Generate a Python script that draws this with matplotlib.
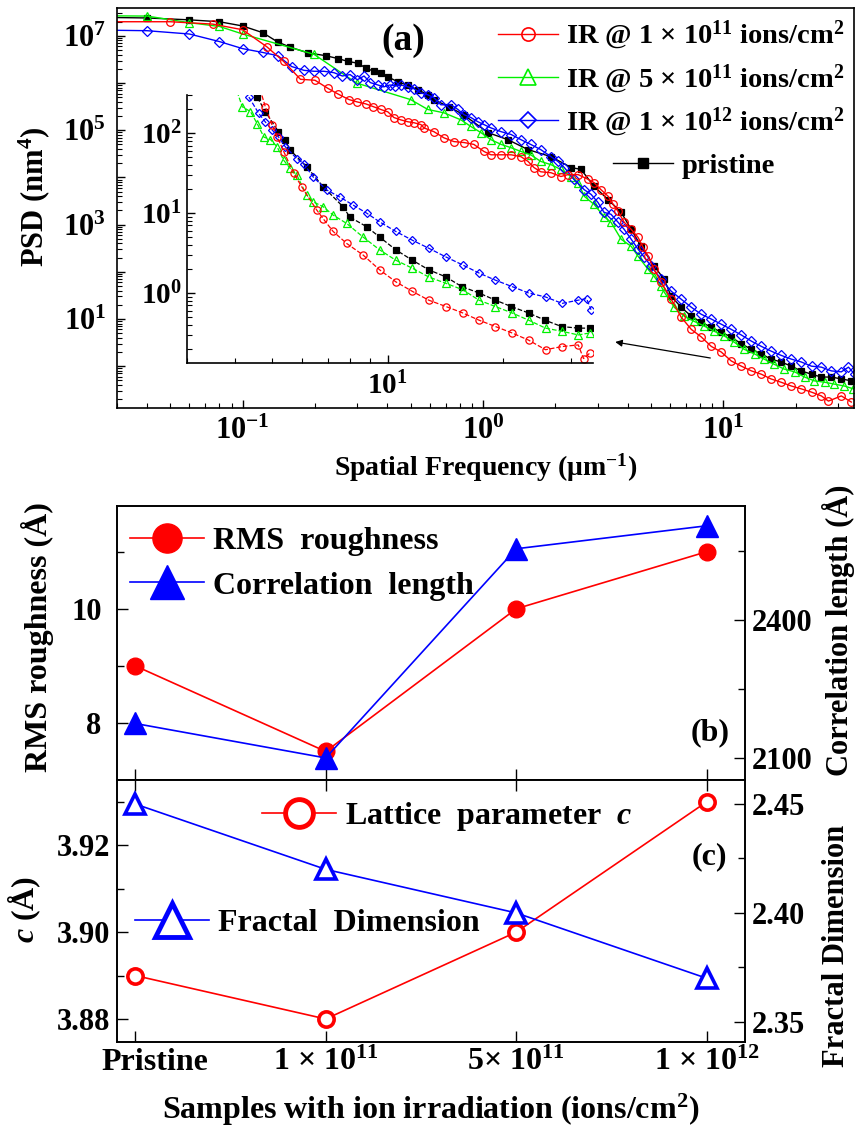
import matplotlib
matplotlib.use('Agg')
import matplotlib.pyplot as plt
import numpy as np
from matplotlib.lines import Line2D
from matplotlib.transforms import ScaledTranslation
from matplotlib.ticker import LogLocator, FuncFormatter, NullFormatter, FixedLocator

plt.rcParams['font.family'] = ['Liberation Serif', 'DejaVu Serif']
plt.rcParams['font.weight'] = 'bold'
plt.rcParams['mathtext.fontset'] = 'custom'
plt.rcParams['mathtext.rm'] = 'Liberation Serif:bold'
plt.rcParams['mathtext.it'] = 'Liberation Serif:italic:bold'
plt.rcParams['mathtext.bf'] = 'Liberation Serif:bold'
plt.rcParams['mathtext.default'] = 'regular'
plt.rcParams['axes.linewidth'] = 1.2

# ---------------- Panel (a): PSD main curves (f in um^-1, log10 PSD in nm^4) ----------
red_f = [0.025, 0.05, 0.075, 0.10, 0.126, 0.148, 0.174, 0.2, 0.226, 0.249, 0.277, 0.30,
         0.325, 0.35, 0.376, 0.402, 0.426, 0.455, 0.487, 0.516, 0.552, 0.568, 0.625, 0.688,
         0.757, 0.834, 0.917, 1.01, 1.08, 1.19, 1.31, 1.44, 1.54, 1.63, 1.74, 1.92, 2.11,
         2.26, 2.49, 2.74, 2.90, 3.10, 3.32, 3.48, 3.65, 3.87, 4.14, 4.42, 4.64, 4.87, 5.16,
         5.52, 6.07, 6.68, 7.36, 8.10, 8.91, 9.81, 10.8, 11.9, 13.1, 14.4, 15.8, 17.4, 19.2,
         21.1, 23.3, 25.6, 27.4, 31.0, 34.1]
red_logpsd = [7.30, 7.30, 7.25, 7.13, 6.77, 6.46, 6.08, 6.06, 5.89, 5.77, 5.65, 5.60,
              5.56, 5.50, 5.44, 5.39, 5.27, 5.22, 5.18, 5.16, 5.12, 5.05, 4.97, 4.84,
              4.76, 4.74, 4.70, 4.55, 4.48, 4.48, 4.48, 4.44, 4.34, 4.21, 4.12, 4.10, 4.02,
              4.06, 4.06, 3.96, 3.89, 3.74, 3.60, 3.43, 3.28, 3.05, 2.90, 2.73, 2.52, 2.33, 2.05,
              1.78, 1.42, 1.04, 0.78, 0.62, 0.42, 0.30, 0.11, 0.00, -0.10, -0.17, -0.27, -0.34,
              -0.42, -0.48, -0.55, -0.63, -0.74, -0.63, -0.76]

green_f = [0.02, 0.04, 0.06, 0.08, 0.10, 0.198, 0.298, 0.50, 0.59, 0.688, 0.81, 0.891, 0.981,
           1.08, 1.19, 1.31, 1.44, 1.58, 1.74, 1.92, 2.11, 2.33, 2.49, 2.64, 2.90, 3.19, 3.41,
           3.76, 4.14, 4.42, 4.87, 5.16, 5.52, 5.68, 6.25, 6.88, 7.57, 8.33, 9.17, 10.1, 11.1,
           12.2, 13.5, 14.8, 16.3, 17.9, 19.8, 21.8, 23.9, 26.4, 29.0, 31.9, 34.8]
green_logpsd = [7.43, 7.42, 7.28, 7.20, 7.04, 6.61, 6.00, 5.65, 5.44, 5.37, 5.22, 5.08, 4.95,
                4.80, 4.70, 4.63, 4.55, 4.48, 4.34, 4.27, 4.17, 4.02, 3.89, 3.60, 3.43, 3.17, 3.05,
                2.69, 2.54, 2.33, 2.05, 1.90, 1.69, 1.57, 1.25, 1.06, 0.95, 0.85, 0.74, 0.64, 0.51,
                0.36, 0.26, 0.15, 0.04, -0.06, -0.12, -0.23, -0.31, -0.34, -0.38, -0.42, -0.48]

blue_f = [0.02, 0.04, 0.06, 0.08, 0.10, 0.121, 0.14, 0.16, 0.18, 0.198, 0.218, 0.24, 0.26,
          0.28, 0.30, 0.32, 0.34, 0.365, 0.387, 0.41, 0.43, 0.455, 0.487, 0.516, 0.552, 0.59,
          0.625, 0.668, 0.736, 0.787, 0.834, 0.891, 0.953, 1.01, 1.08, 1.19, 1.31, 1.44, 1.58,
          1.74, 1.92, 2.05, 2.18, 2.39, 2.64, 2.82, 3.01, 3.19, 3.41, 3.65, 3.87, 4.14, 4.42,
          4.69, 5.01, 5.52, 6.07, 6.68, 7.36, 8.10, 8.91, 9.81, 10.8, 11.9, 13.1, 14.4, 15.8,
          17.4, 19.2, 21.1, 23.3, 25.6, 28.2, 31.0, 33.2, 35.2]
blue_logpsd = [7.13, 7.11, 7.04, 6.88, 6.73, 6.65, 6.58, 6.35, 6.27, 6.25, 6.25, 6.22, 6.15,
               6.18, 6.07, 6.15, 6.01, 5.96, 5.92, 5.96, 5.94, 5.96, 5.92, 5.88, 5.79, 5.75,
               5.69, 5.54, 5.54, 5.44, 5.33, 5.27, 5.18, 5.12, 5.05, 4.97, 4.91, 4.80, 4.70,
               4.59, 4.44, 4.34, 4.21, 3.96, 3.74, 3.64, 3.47, 3.26, 3.22, 3.05, 2.90, 2.69, 2.48,
               2.31, 2.12, 1.84, 1.59, 1.42, 1.25, 1.10, 1.00, 0.89, 0.78, 0.66, 0.53, 0.42, 0.32,
               0.23, 0.15, 0.09, 0.00, -0.02, -0.10, -0.12, -0.02, -0.17]

black_f = [0.02, 0.04, 0.06, 0.08, 0.10, 0.121, 0.14, 0.158, 0.187, 0.222, 0.249, 0.274,
           0.302, 0.325, 0.351, 0.376, 0.402, 0.442, 0.487, 0.536, 0.59, 0.625, 0.72, 0.83,
           1.05, 1.27, 1.54, 1.92, 2.33, 2.56, 2.90, 3.32, 3.76, 4.14, 4.55, 5.16, 5.68, 6.07,
           6.68, 7.36, 8.10, 8.91, 9.81, 10.8, 11.9, 13.1, 14.4, 15.8, 17.4, 19.2, 21.1, 23.3,
           25.6, 28.2, 31.0, 34.1]
black_logpsd = [7.40, 7.38, 7.34, 7.30, 7.21, 7.07, 6.87, 6.76, 6.64, 6.58, 6.52, 6.46,
                6.42, 6.32, 6.25, 6.22, 6.13, 6.03, 5.95, 5.86, 5.75, 5.65, 5.50, 5.33,
                4.95, 4.80, 4.59, 4.44, 4.21, 4.17, 3.81, 3.53, 3.26, 2.90, 2.54, 2.12, 1.84, 1.48,
                1.25, 1.06, 0.93, 0.83, 0.72, 0.62, 0.47, 0.36, 0.26, 0.15, 0.09, 0.00, -0.10,
                -0.17, -0.23, -0.23, -0.27, -0.31]

# ---------------- Inset of panel (a) ----------------
in_red_f = [4.65, 4.80, 5.0, 5.16, 5.36, 5.69, 5.97, 6.53, 6.79, 7.21, 7.82, 8.63, 9.53, 10.5,
            11.6, 12.8, 14.2, 15.7, 17.3, 19.1, 21.1, 23.3, 25.8, 28.5, 31.4, 32.4, 33.7]
in_red_logpsd = [2.55, 2.33, 2.10, 1.95, 1.77, 1.50, 1.33, 1.04, 0.93, 0.77, 0.62, 0.475, 0.29,
                 0.14, 0.02, -0.09, -0.17, -0.25, -0.34, -0.42, -0.50, -0.59, -0.71, -0.67,
                 -0.65, -0.82, -0.75]
in_green_f = [4.0, 4.18, 4.39, 4.57, 4.76, 4.95, 5.15, 5.36, 5.57, 5.80, 6.15, 6.40, 6.79, 7.21,
              7.82, 8.63, 9.53, 10.5, 11.6, 12.8, 14.2, 15.7, 17.3, 19.1, 21.1, 23.3, 25.8,
              28.5, 31.4, 33.7]
in_green_logpsd = [2.60, 2.33, 2.27, 2.12, 1.95, 1.92, 1.83, 1.66, 1.56, 1.475, 1.225, 1.14, 1.08,
                   0.975, 0.87, 0.70, 0.54, 0.41, 0.31, 0.20, 0.12, 0.04, -0.09, -0.17, -0.25,
                   -0.34, -0.44, -0.48, -0.525, -0.50]
in_blue_f = [4.2, 4.35, 4.61, 4.80, 5.0, 5.2, 5.41, 5.80, 6.04, 6.40, 6.93, 7.51, 8.13, 8.81,
             9.53, 10.5, 11.6, 12.8, 14.2, 15.7, 17.3, 19.1, 21.1, 23.3, 25.8, 28.5, 31.4,
             33.0, 33.9]
in_blue_logpsd = [2.60, 2.45, 2.25, 2.14, 2.04, 1.95, 1.83, 1.68, 1.62, 1.45, 1.29, 1.20, 1.10,
                  1.00, 0.89, 0.77, 0.66, 0.56, 0.45, 0.35, 0.25, 0.16, 0.08, 0.00, -0.05,
                  -0.13, -0.09, -0.07, -0.21]
in_black_f = [4.45, 4.57, 4.8, 5.19, 5.41, 5.57, 6.15, 6.79, 7.65, 7.97, 8.81, 9.53, 10.5, 11.6,
              12.8, 14.2, 15.6, 17.3, 19.1, 21.0, 23.3, 25.7, 28.4, 31.4, 33.7]
in_black_logpsd = [2.60, 2.45, 2.27, 2.02, 1.91, 1.79, 1.58, 1.33, 1.08, 0.95, 0.83, 0.70, 0.54,
                   0.41, 0.29, 0.20, 0.08, 0.00, -0.09, -0.17, -0.25, -0.34, -0.42, -0.44, -0.44]

legend_a = ['IR @ 1 × 10$^{11}$ ions/cm$^{2}$', 'IR @ 5 × 10$^{11}$ ions/cm$^{2}$',
            'IR @ 1 × 10$^{12}$ ions/cm$^{2}$', 'pristine']

# ---------------- Panels (b) and (c) ----------------
samples = ['Pristine', '1 × 10$^{11}$', '5× 10$^{11}$', '1 × 10$^{12}$']
rms_roughness = [9.0, 7.5, 10.0, 11.0]
corr_length = [2175, 2100, 2555, 2605]
lattice_c = [3.89, 3.88, 3.90, 3.93]
fractal_dim = [2.45, 2.42, 2.40, 2.37]

RED, GREEN, BLUE, BLACK = '#FF0000', '#00F000', '#0000FF', '#000000'

W, H = 856, 1133
fig = plt.figure(figsize=(W / 100, H / 100), dpi=100)


def fax(l, t, r, b):
    return fig.add_axes([l / W, (H - b) / H, (r - l) / W, (b - t) / H])


def logfmt_odd(v, pos):
    e = int(round(np.log10(v)))
    return '10$^{%d}$' % e if e % 2 == 1 else ''


def logfmt(v, pos):
    e = int(round(np.log10(v)))
    return '10$^{%d}$' % e


def setup_log(a):
    for axis in (a.xaxis, a.yaxis):
        axis.set_major_locator(LogLocator(base=10, numticks=20))
        axis.set_minor_locator(LogLocator(base=10, subs=np.arange(2, 10), numticks=20))
        axis.set_minor_formatter(NullFormatter())
    a.tick_params(which='both', direction='in')
    a.tick_params(which='major', length=6, width=1.0)
    a.tick_params(which='minor', length=3.5, width=0.8)


# ======== Panel (a) ========
ax = fax(117, 8, 854, 408)
series = [
    (black_f, black_logpsd, BLACK, 's', 4.6, BLACK),
    (green_f, green_logpsd, GREEN, '^', 6.0, 'none'),
    (blue_f, blue_logpsd, BLUE, 'D', 5.0, 'none'),
    (red_f, red_logpsd, RED, 'o', 5.5, 'none'),
]
for f, lp, col, mk, ms, mfc in series:
    ax.plot(f, 10 ** np.array(lp), color=col, marker=mk, ms=ms, mfc=mfc, mec=col,
            mew=0.9, lw=1.0)
ax.set_xscale('log')
ax.set_yscale('log')
ax.set_xlim(0.03, 35)
ax.set_ylim(0.13, 3.9e7)
setup_log(ax)
ax.yaxis.set_major_formatter(FuncFormatter(logfmt_odd))
ax.xaxis.set_major_formatter(FuncFormatter(logfmt))
ax.tick_params(labelsize=22)
ax.tick_params(axis='y', pad=8)
ax.tick_params(axis='x', pad=6)
ax.set_ylabel('PSD (nm$^{4}$)', fontsize=22, fontweight='bold')
ax.yaxis.set_label_coords(-0.088, 0.527)
ax.set_xlabel('Spatial Frequency (μm$^{-1}$)', fontsize=20, fontweight='bold')
ax.xaxis.set_label_coords(0.5, -0.108)
ax.text(0.388, 0.92, '(a)', transform=ax.transAxes, fontsize=27, fontweight='bold',
        ha='center', va='center')

h_a = [Line2D([], [], color=RED, marker='o', ms=9.5, mfc='none', mec=RED, mew=1.2, lw=1.0),
       Line2D([], [], color=GREEN, marker='^', ms=11, mfc='none', mec=GREEN, mew=1.2, lw=1.0),
       Line2D([], [], color=BLUE, marker='D', ms=8.5, mfc='none', mec=BLUE, mew=1.2, lw=1.0),
       Line2D([], [], color=BLACK, marker='s', ms=7.5, lw=1.0)]
leg1 = ax.legend(h_a[:3], legend_a[:3], loc='upper left', bbox_to_anchor=(0.517, 0.972),
                 frameon=False, fontsize=20.5, handlelength=2.1, handletextpad=0.3,
                 labelspacing=0.36, borderpad=0, borderaxespad=0)
ax.add_artist(leg1)
ax.legend(h_a[3:], legend_a[3:], loc='center left', bbox_to_anchor=(0.673, 0.605),
          frameon=False, fontsize=20.5, handlelength=2.1, handletextpad=0.3,
          borderpad=0, borderaxespad=0)
ax.annotate('', xy=(0.676, 0.165), xytext=(0.805, 0.125), xycoords='axes fraction',
            arrowprops=dict(arrowstyle='-|>', color='black', lw=0.9, mutation_scale=10,
                            shrinkA=0, shrinkB=0))

# ======== Inset ========
axi = fax(187, 95, 593, 363)
axi.patch.set_visible(False)
axi.spines['top'].set_visible(False)
axi.spines['right'].set_visible(False)
inset_series = [
    (in_black_f, in_black_logpsd, BLACK, 's', 4.3, BLACK),
    (in_green_f, in_green_logpsd, GREEN, '^', 5.5, 'none'),
    (in_blue_f, in_blue_logpsd, BLUE, 'D', 4.5, 'none'),
    (in_red_f, in_red_logpsd, RED, 'o', 5.2, 'none'),
]
for f, lp, col, mk, ms, mfc in inset_series:
    axi.plot(f, 10 ** np.array(lp), color=col, marker=mk, ms=ms, mfc=mfc, mec=col,
             mew=0.9, lw=0.9, ls='--')
axi.set_xscale('log')
axi.set_yscale('log')
axi.set_xlim(3.0, 34.3)
axi.set_ylim(0.133, 300)
setup_log(axi)
axi.yaxis.set_major_formatter(FuncFormatter(logfmt))
axi.xaxis.set_major_formatter(FuncFormatter(logfmt))
axi.tick_params(labelsize=21)
axi.tick_params(axis='y', pad=4)
axi.tick_params(axis='x', pad=6)

# ======== Panel (b) ========
xpos = np.arange(len(samples))
axb = fax(117, 506, 745, 780)
axb2 = axb.twinx()
axb.plot(xpos, rms_roughness, color=RED, marker='o', ms=12, lw=1.2)
axb2.plot(xpos, corr_length, color=BLUE, marker='^', ms=16, lw=1.2)
axb.set_xlim(-0.095, 3.2)
axb.set_ylim(7.0, 11.8)
axb2.set_ylim(2052, 2648)
axb.set_xticks(xpos)
axb.set_xticklabels([])
axb.yaxis.set_major_locator(FixedLocator([8, 10]))
axb.yaxis.set_minor_locator(FixedLocator([9, 11]))
axb2.yaxis.set_major_locator(FixedLocator([2100, 2400]))
axb2.yaxis.set_minor_locator(FixedLocator([2250, 2550]))
for a in (axb, axb2):
    a.tick_params(which='both', direction='in', labelsize=22)
    a.tick_params(which='major', length=8, width=1.0)
    a.tick_params(which='minor', length=5, width=1.0)
axb.tick_params(axis='y', pad=11)
axb2.tick_params(axis='y', pad=5)
axb.set_ylabel('RMS roughness (Å)', fontsize=23, fontweight='bold')
axb.yaxis.set_label_coords(-0.10, 0.522)
axb2.set_ylabel('Correlation length (Å)', fontsize=22, fontweight='bold')
axb2.yaxis.set_label_coords(1.122, 0.545)
axb.text(0.944, 0.172, '(b)', transform=axb.transAxes, fontsize=23, fontweight='bold',
         ha='center', va='center')
h_b = [Line2D([], [], color=RED, marker='o', ms=21, lw=1.2),
       Line2D([], [], color=BLUE, marker='^', ms=25, lw=1.2)]
axb.legend(h_b, ['RMS  roughness', 'Correlation  length'], loc='upper left',
           bbox_to_anchor=(0.021, 0.925), frameon=False, fontsize=23, handlelength=2.3,
           handletextpad=0.3, labelspacing=0.48, borderpad=0, borderaxespad=0)

# ======== Panel (c) ========
axc = fax(117, 780, 745, 1042)
axc2 = axc.twinx()
axc.plot(xpos, lattice_c, color=RED, marker='o', ms=11, mfc='white', mec=RED, mew=2.6, lw=1.2)
axc2.plot(xpos, fractal_dim, color=BLUE, marker='^', ms=15, mfc='white', mec=BLUE, mew=2.6,
          lw=1.2)
axc.set_xlim(-0.095, 3.2)
axc.set_ylim(3.8747, 3.935)
axc2.set_ylim(2.3408, 2.461)
axc.set_xticks(xpos)
axc.set_xticklabels(samples)
axc.yaxis.set_major_locator(FixedLocator([3.88, 3.90, 3.92]))
axc.yaxis.set_minor_locator(FixedLocator([3.89, 3.91, 3.93]))
axc.yaxis.set_major_formatter(FuncFormatter(lambda v, p: '%.2f' % v))
axc2.yaxis.set_major_locator(FixedLocator([2.35, 2.40, 2.45]))
axc2.yaxis.set_minor_locator(FixedLocator([2.375, 2.425]))
axc2.yaxis.set_major_formatter(FuncFormatter(lambda v, p: '%.2f' % v))
for a in (axc, axc2):
    a.tick_params(which='both', direction='in', labelsize=22)
    a.tick_params(which='major', length=8, width=1.0)
    a.tick_params(which='minor', length=5, width=1.0)
axc.tick_params(axis='x', top=True, pad=4, labelsize=23)
axc.tick_params(axis='y', pad=5)
axc2.tick_params(axis='y', pad=5)
first = axc.get_xticklabels()[0]
first.set_transform(first.get_transform() + ScaledTranslation(0.2, 0, fig.dpi_scale_trans))
axc.set_ylabel('$\\mathit{c}$ (Å)', fontsize=23, fontweight='bold')
axc.yaxis.set_label_coords(-0.118, 0.508)
axc2.set_ylabel('Fractal Dimension', fontsize=22, fontweight='bold')
axc2.yaxis.set_label_coords(1.122, 0.366)
axc.set_xlabel('Samples with ion irradiation (ions/cm$^{2}$)', fontsize=23, fontweight='bold')
axc.xaxis.set_label_coords(0.5, -0.19)
axc.text(0.944, 0.706, '(c)', transform=axc.transAxes, fontsize=23, fontweight='bold',
         ha='center', va='center')
h_c1 = [Line2D([], [], color=RED, marker='o', ms=20, mfc='white', mec=RED, mew=3.5, lw=1.2)]
h_c2 = [Line2D([], [], color=BLUE, marker='^', ms=24, mfc='white', mec=BLUE, mew=3.5, lw=1.2)]
lc1 = axc.legend(h_c1, ['Lattice  parameter  $\\mathit{c}$'], loc='center left',
                 bbox_to_anchor=(0.231, 0.859), frameon=False, fontsize=23, handlelength=2.3,
                 handletextpad=0.3, borderpad=0, borderaxespad=0)
axc.add_artist(lc1)
axc.legend(h_c2, ['Fractal  Dimension'], loc='center left', bbox_to_anchor=(0.029, 0.454),
           frameon=False, fontsize=23, handlelength=2.3, handletextpad=0.3, borderpad=0,
           borderaxespad=0)

fig.savefig('out.png', dpi=100)
